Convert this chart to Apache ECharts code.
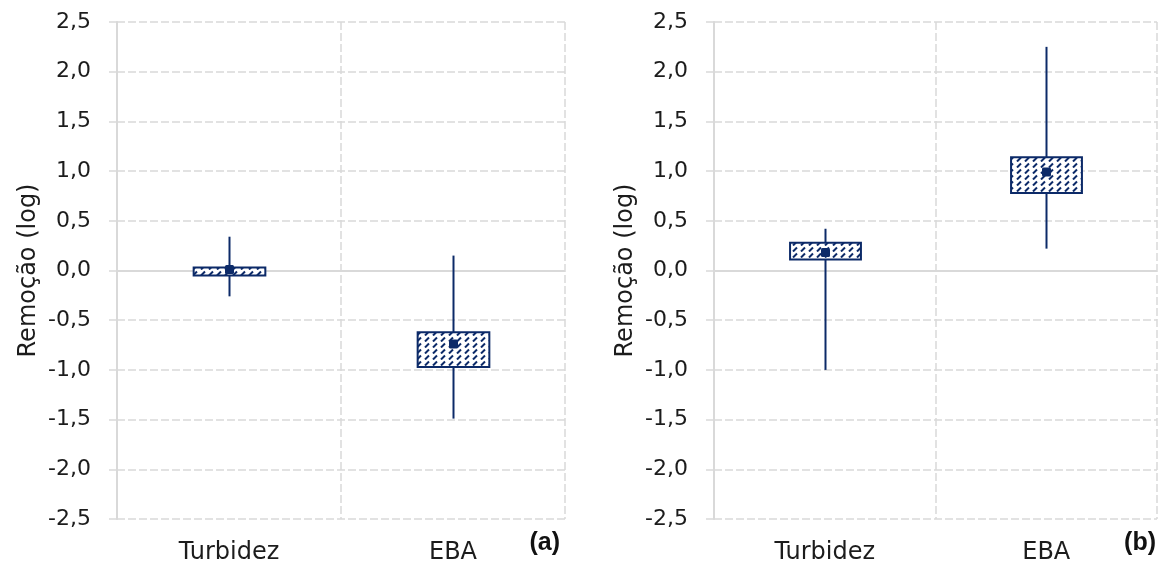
<!DOCTYPE html>
<html>
<head>
<meta charset="utf-8">
<title>Remoção (log)</title>
<script src="https://cdn.jsdelivr.net/npm/echarts@6/dist/echarts.min.js"></script>
<style>
  html, body { margin: 0; padding: 0; background: #ffffff; }
  #chart { width: 1165px; height: 568px; }
</style>
</head>
<body>
<div id="chart"></div>
<script>
// Categories on both panels
var categories = ['Turbidez', 'EBA'];

// Panel (a): [min, Q1, mean, Q3, max] for each category
var statsA_Turbidez = [-0.26, -0.05, 0.01, 0.03, 0.34];
var statsA_EBA = [-1.49, -0.97, -0.74, -0.62, 0.15];

// Panel (b): [min, Q1, mean, Q3, max] for each category
var statsB_Turbidez = [-1.0, 0.11, 0.18, 0.28, 0.42];
var statsB_EBA = [0.22, 0.78, 0.99, 1.14, 2.25];

// Value axis ticks
var yMin = -2.5, yMax = 2.5, yStep = 0.5;
var panelTags = ['(a)', '(b)'];

var NAVY = '#0c2a68';
var GRID = '#d9d9d9';
var TEXT = '#1c1c1c';
var FONT = 'DejaVu Sans';

// Hatched fill: short upward-diagonal dashes
function makeHatch() {
  var c = document.createElement('canvas');
  c.width = 8; c.height = 6;
  var ctx = c.getContext('2d');
  ctx.fillStyle = '#ffffff';
  ctx.fillRect(0, 0, 8, 6);
  ctx.strokeStyle = NAVY;
  ctx.lineWidth = 2;
  ctx.lineCap = 'butt';
  ctx.beginPath();
  ctx.moveTo(1, 5.5);
  ctx.lineTo(5, 1.5);
  ctx.stroke();
  return c;
}
var hatch = makeHatch();

function rows(a, b) {
  return [[0].concat(a), [1].concat(b)];
}

function renderBox(params, api) {
  var x = api.value(0);
  var lo = api.coord([x, api.value(1)]);
  var q1 = api.coord([x, api.value(2)]);
  var mean = api.coord([x, api.value(3)]);
  var q3 = api.coord([x, api.value(4)]);
  var hi = api.coord([x, api.value(5)]);
  var w = api.size([1, 0])[0] * 0.32;
  var cx = Math.round(lo[0]) + 0.5;
  return {
    type: 'group',
    children: [
      {
        type: 'line',
        shape: { x1: cx, y1: lo[1], x2: cx, y2: hi[1] },
        style: { stroke: NAVY, lineWidth: 2 }
      },
      {
        type: 'rect',
        shape: { x: cx - w / 2, y: q3[1], width: w, height: q1[1] - q3[1] },
        style: { fill: { image: hatch, repeat: 'repeat' }, stroke: NAVY, lineWidth: 2 }
      },
      {
        type: 'rect',
        shape: { x: cx - 4.5, y: mean[1] - 4.5, width: 9, height: 9, r: 1.5 },
        style: { fill: NAVY }
      }
    ]
  };
}

function fmt(v) {
  return v.toFixed(1).replace('.', ',');
}

function xAxisFor(i) {
  return {
    type: 'category',
    gridIndex: i,
    data: categories,
    boundaryGap: true,
    axisLine: { show: false },
    axisTick: { show: false },
    axisLabel: { color: TEXT, fontFamily: FONT, fontSize: 24, margin: 22 },
    splitLine: { show: true, lineStyle: { color: GRID, width: 1.5, type: [8, 3] } }
  };
}

function yAxisFor(i) {
  return {
    type: 'value',
    gridIndex: i,
    min: yMin,
    max: yMax,
    interval: yStep,
    name: 'Remoção (log)',
    nameLocation: 'middle',
    nameGap: 76,
    nameTextStyle: { color: TEXT, fontFamily: FONT, fontSize: 24 },
    axisLine: { show: true, lineStyle: { color: GRID, width: 2 } },
    axisTick: { show: true, length: 8, lineStyle: { color: GRID, width: 1.5 } },
    axisLabel: { color: TEXT, fontFamily: FONT, fontSize: 22, margin: 26, formatter: fmt },
    splitLine: { show: true, lineStyle: { color: GRID, width: 1.5, type: [8, 3] } }
  };
}

function boxSeries(i, data) {
  return {
    type: 'custom',
    xAxisIndex: i,
    yAxisIndex: i,
    data: data,
    renderItem: renderBox,
    silent: true,
    markLine: {
      silent: true,
      symbol: 'none',
      label: { show: false },
      lineStyle: { color: GRID, width: 2, type: 'solid' },
      data: [{ yAxis: 0 }]
    },
    z: 5
  };
}

var chart = echarts.init(document.getElementById('chart'), null, { renderer: 'canvas' });
chart.setOption({
  animation: false,
  backgroundColor: '#ffffff',
  grid: [
    { left: 117, top: 22, width: 448, height: 497 },
    { left: 714, top: 22, width: 443, height: 497 }
  ],
  xAxis: [xAxisFor(0), xAxisFor(1)],
  yAxis: [yAxisFor(0), yAxisFor(1)],
  series: [
    boxSeries(0, rows(statsA_Turbidez, statsA_EBA)),
    boxSeries(1, rows(statsB_Turbidez, statsB_EBA))
  ],
  graphic: [
    {
      type: 'text', right: 1165 - 560, top: 531,
      style: { text: panelTags[0], fill: '#111111', font: 'bold 25px "Liberation Sans Narrow", "Liberation Sans", Arial', textAlign: 'right' }
    },
    {
      type: 'text', right: 1165 - 1156, top: 531,
      style: { text: panelTags[1], fill: '#111111', font: 'bold 25px "Liberation Sans Narrow", "Liberation Sans", Arial', textAlign: 'right' }
    }
  ]
});
</script>
</body>
</html>
